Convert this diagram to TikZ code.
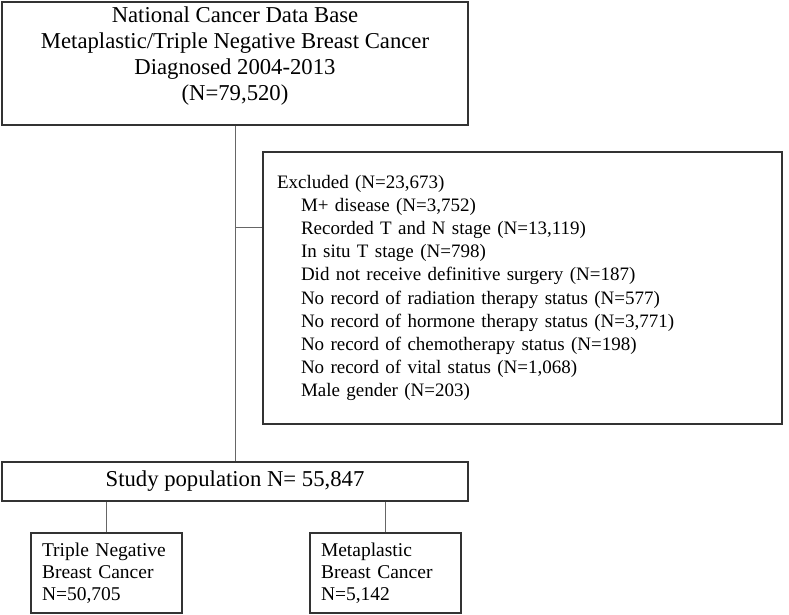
\documentclass[tikz,border=0pt]{standalone}
\usepackage{fontspec}
\setmainfont{Liberation Serif}
\newcommand{\exind}{\hspace*{24pt}}

\begin{document}
\begin{tikzpicture}[x=1pt,y=-1pt,
  box/.style={draw=black!80,line width=1.6pt,inner sep=0pt},
  link/.style={draw=black!60,line width=0.9pt},
  big/.style={font=\fontsize{22.7}{26}\selectfont},
  small/.style={font=\fontsize{19}{23.2}\selectfont},
  arm/.style={box,small,minimum width=151pt,minimum height=80pt,
              text width=129pt,inner xsep=11pt,align=left,
              font=\fontsize{19.5}{22}\selectfont}]
  \useasboundingbox (0,0) rectangle (789,614);

  \node[box,minimum width=466pt,minimum height=123pt] (ncdb) at (235,63.5) {};
  \node[big,align=center] (ncdbtext) at (235,56)
    {National Cancer Data Base\\Metaplastic/Triple Negative Breast Cancer\\Diagnosed 2004-2013\\(N=79,520)};

  \node[box,small,minimum width=519pt,minimum height=272pt,text width=491pt,
        inner xsep=14pt,align=left] (excl) at (522.5,288)
    {Excluded (N=23,673)\\
     \exind M+ disease (N=3,752)\\
     \exind Recorded T and N stage (N=13,119)\\
     \exind In situ T stage (N=798)\\
     \exind Did not receive definitive surgery (N=187)\\
     \exind No record of radiation therapy status (N=577)\\
     \exind No record of hormone therapy status (N=3,771)\\
     \exind No record of chemotherapy status (N=198)\\
     \exind No record of vital status (N=1,068)\\
     \exind Male gender (N=203)};

  \node[box,big,minimum width=466pt,minimum height=39pt] (study) at (235,481.5)
    {Study population N= 55,847};

  \node[arm] (tnbc) at (106.5,573) {Triple Negative\\Breast Cancer\\N=50,705};
  \node[arm] (mbc) at (385.5,573) {Metaplastic\\Breast Cancer\\N=5,142};

  \coordinate (split) at (235,227);
  \path[link] (ncdb) -- (study)
              (split) -- (excl.west |- split)
              (tnbc.north) -- (tnbc.north |- study.south)
              (mbc.north) -- (mbc.north |- study.south);
\end{tikzpicture}
\end{document}
